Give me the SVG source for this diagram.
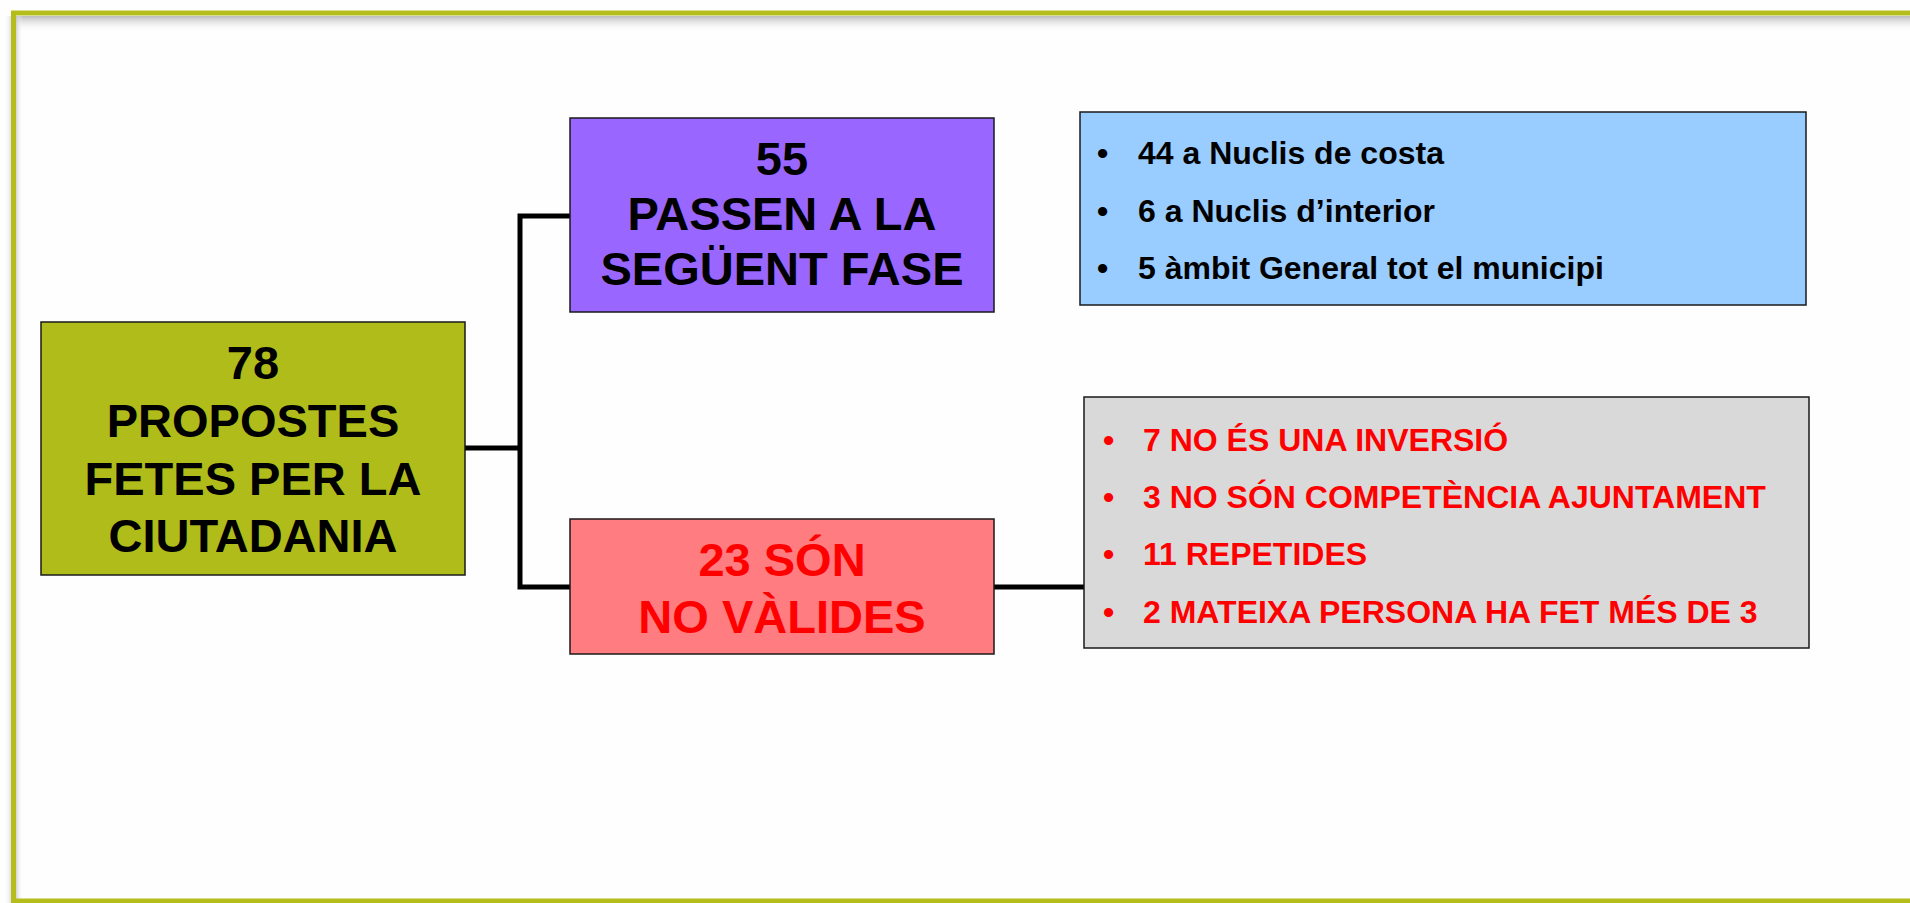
<svg xmlns="http://www.w3.org/2000/svg" width="1910" height="903" viewBox="0 0 1910 903">
<defs>
<linearGradient id="shTop" x1="0" y1="0" x2="0" y2="1">
<stop offset="0" stop-color="#b4b4b4" stop-opacity="0.9"/>
<stop offset="1" stop-color="#ffffff" stop-opacity="0"/>
</linearGradient>
<linearGradient id="shLeft" x1="0" y1="0" x2="1" y2="0">
<stop offset="0" stop-color="#c8c8c8" stop-opacity="0.8"/>
<stop offset="1" stop-color="#ffffff" stop-opacity="0"/>
</linearGradient>
<linearGradient id="shOut" x1="1" y1="0" x2="0" y2="0">
<stop offset="0" stop-color="#d0d0d0" stop-opacity="0.8"/>
<stop offset="1" stop-color="#ffffff" stop-opacity="0"/>
</linearGradient>
</defs>
<style>
.box{stroke:#1a1a1a;stroke-width:1.5}
.big{font-family:"Liberation Sans",Arial,sans-serif;font-weight:bold;font-size:47px;text-anchor:middle}
.item{font-family:"Liberation Sans",Arial,sans-serif;font-weight:bold;font-size:32px}
.blk{fill:#000}
.red{fill:#ff0000}
.conn{fill:none;stroke:#000;stroke-width:5}
</style>
<rect width="1910" height="903" fill="#fefefe"/>
<g id="frame">
<rect x="4" y="16" width="8" height="887" fill="url(#shOut)"/>
<rect x="16" y="16" width="1894" height="16" fill="url(#shTop)"/>
<rect x="16" y="16" width="7" height="887" fill="url(#shLeft)"/>
<rect x="13.5" y="13" width="1940" height="888" fill="none" stroke="#b4bd1b" stroke-width="5"/>
</g>
<g id="connectors">
<path class="conn" d="M465 448 H520 M520 216 V587 M517.5 216 H570 M517.5 587 H570 M994 587 H1084"/>
</g>
<g id="node-propostes">
<rect class="box" x="41" y="322" width="424" height="253" fill="#b0bc1a"/>
<text class="big blk" x="253" y="379">78</text>
<text class="big blk" x="253" y="437">PROPOSTES</text>
<text class="big blk" x="253" y="495">FETES PER LA</text>
<text class="big blk" x="253" y="552">CIUTADANIA</text>
</g>
<g id="node-passen">
<rect class="box" x="570" y="118" width="424" height="194" fill="#9966ff"/>
<text class="big blk" x="782" y="175">55</text>
<text class="big blk" x="782" y="230">PASSEN A LA</text>
<text class="big blk" x="782" y="285">SEGÜENT FASE</text>
</g>
<g id="node-novalides">
<rect class="box" x="570" y="519" width="424" height="135" fill="#ff7c80"/>
<text class="big red" x="782" y="576">23 SÓN</text>
<text class="big red" x="782" y="633">NO VÀLIDES</text>
</g>
<g id="node-detall-passen">
<rect class="box" x="1080" y="112" width="726" height="193" fill="#99ccff"/>
<text class="item blk" x="1097" y="164">•</text>
<text class="item blk" x="1138" y="164">44 a Nuclis de costa</text>
<text class="item blk" x="1097" y="222">•</text>
<text class="item blk" x="1138" y="222">6 a Nuclis d’interior</text>
<text class="item blk" x="1097" y="279">•</text>
<text class="item blk" x="1138" y="279">5 àmbit General tot el municipi</text>
</g>
<g id="node-detall-novalides">
<rect class="box" x="1084" y="397" width="725" height="251" fill="#d9d9d9"/>
<text class="item red" x="1103" y="451">•</text>
<text class="item red" x="1143" y="451">7 NO ÉS UNA INVERSIÓ</text>
<text class="item red" x="1103" y="508">•</text>
<text class="item red" x="1143" y="508">3 NO SÓN COMPETÈNCIA AJUNTAMENT</text>
<text class="item red" x="1103" y="565">•</text>
<text class="item red" x="1143" y="565">11 REPETIDES</text>
<text class="item red" x="1103" y="623">•</text>
<text class="item red" x="1143" y="623">2 MATEIXA PERSONA HA FET MÉS DE 3</text>
</g>
</svg>
